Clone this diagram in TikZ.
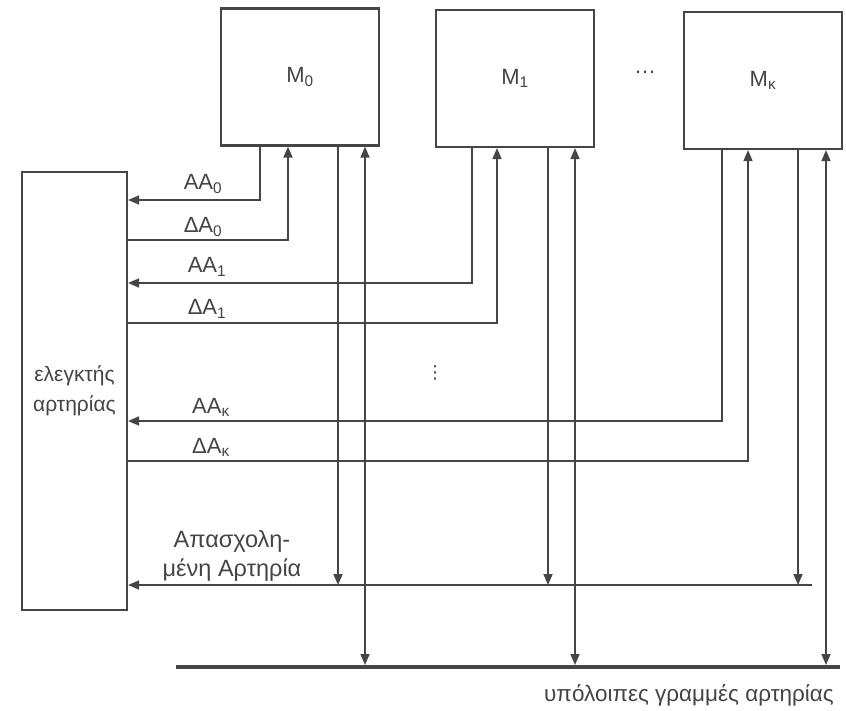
\documentclass[tikz,border=0pt]{standalone}
\usepackage{fontspec}
\setmainfont{Liberation Sans}
\newfontfamily\dotsfont{DejaVu Sans}
\usetikzlibrary{arrows.meta}
\definecolor{busGray}{HTML}{454545}
\definecolor{busTextGray}{HTML}{444444}
\newcommand{\msub}[1]{\textsubscript{#1}}
\begin{document}
\begin{tikzpicture}[x=1pt, y=-1pt, >={Triangle[length=11pt,width=9pt]}]
% Bus arbitration: controller, modules and bus lines (pixel units)
\providecommand{\busLineColor}{busGray}
\providecommand{\busLineWidth}{1.6pt}
\providecommand{\busBoxWidth}{2.2pt}
\providecommand{\busMainWidth}{4.5pt}
\providecommand{\busFont}{\fontsize{22}{30}\selectfont}
\tikzset{
  modbox/.style={draw=\busLineColor, line width=\busBoxWidth, text=busTextGray,
    font=\busFont, minimum width=158pt, minimum height=137pt, inner sep=0pt},
  ctlbox/.style={draw=\busLineColor, line width=\busBoxWidth, text=busTextGray,
    font=\fontsize{21}{30}\selectfont, align=center, minimum width=105pt, minimum height=438pt, inner sep=0pt},
  sig/.style={draw=\busLineColor, line width=\busLineWidth},
  lbl/.style={text=busTextGray, font=\busFont, anchor=base, inner sep=0pt},
}
\useasboundingbox (0,0) rectangle (846,711);
% Modules and controller
\node[modbox] (m0) at (300,77) {M\msub{0}};
\node[modbox] (m1) at (515,78.5) {M\msub{1}};
\node[modbox] (mk) at (763,80.5) {M\msub{κ}};
\node[ctlbox] (ctl) at (74.5,391) {ελεγκτής\\αρτηρίας};
\node[text=busTextGray, font=\busFont] (hdots) at (645,72) {…};
\node[text=busTextGray, font=\dotsfont\fontsize{18}{20}\selectfont] (vdots) at (435,373) {⋮};
% Turning points of the lines
\coordinate (aa0) at (260,200);
\coordinate (da0) at (288,240);
\coordinate (aa1) at (472,283);
\coordinate (da1) at (497,323);
\coordinate (aak) at (722,421);
\coordinate (dak) at (748,461);
\coordinate (busy) at (812,585);
\coordinate (b0) at (338,585);
\coordinate (b1) at (548,585);
\coordinate (bk) at (798,585);
\coordinate (mainL) at (176,667);
\coordinate (mainR) at (840,667);
\coordinate (d0) at (365,665);
\coordinate (d1) at (575,665);
\coordinate (dk) at (826,665);
% Address and data lines
\draw[sig,->] (m0.south -| aa0) |- (ctl.east |- aa0);
\draw[sig,->] (ctl.east |- da0) -| (m0.south -| da0);
\draw[sig,->] (m1.south -| aa1) |- (ctl.east |- aa1);
\draw[sig,->] (ctl.east |- da1) -| (m1.south -| da1);
\draw[sig,->] (mk.south -| aak) |- (ctl.east |- aak);
\draw[sig,->] (ctl.east |- dak) -| (mk.south -| dak);
% Busy line
\draw[sig,->] (busy) -- (ctl.east |- busy);
\draw[sig,->] (m0.south -| b0) -- (b0);
\draw[sig,->] (m1.south -| b1) -- (b1);
\draw[sig,->] (mk.south -| bk) -- (bk);
% Remaining bus lines
\draw[draw=\busLineColor, line width=\busMainWidth] (mainL) -- (mainR);
\draw[sig,<->] (m0.south -| d0) -- (d0);
\draw[sig,<->] (m1.south -| d1) -- (d1);
\draw[sig,<->] (mk.south -| dk) -- (dk);
% Labels
\node[lbl] (laa0) at (203,190) {AA\msub{0}};
\node[lbl] (lda0) at (203,233) {ΔA\msub{0}};
\node[lbl] (laa1) at (207,273) {AA\msub{1}};
\node[lbl] (lda1) at (207,315) {ΔA\msub{1}};
\node[lbl] (laak) at (211,413) {AA\msub{κ}};
\node[lbl] (ldak) at (211,453) {ΔA\msub{κ}};
\node[lbl, anchor=center, align=center, font=\fontsize{23.5}{29}\selectfont] (lbusy) at (232,556) {Απασχολη-\\μένη Αρτηρία};
\node[lbl, anchor=base east, font=\fontsize{22.5}{26}\selectfont] (lmain) at (834,701) {υπόλοιπες γραμμές αρτηρίας};
\end{tikzpicture}
\end{document}
